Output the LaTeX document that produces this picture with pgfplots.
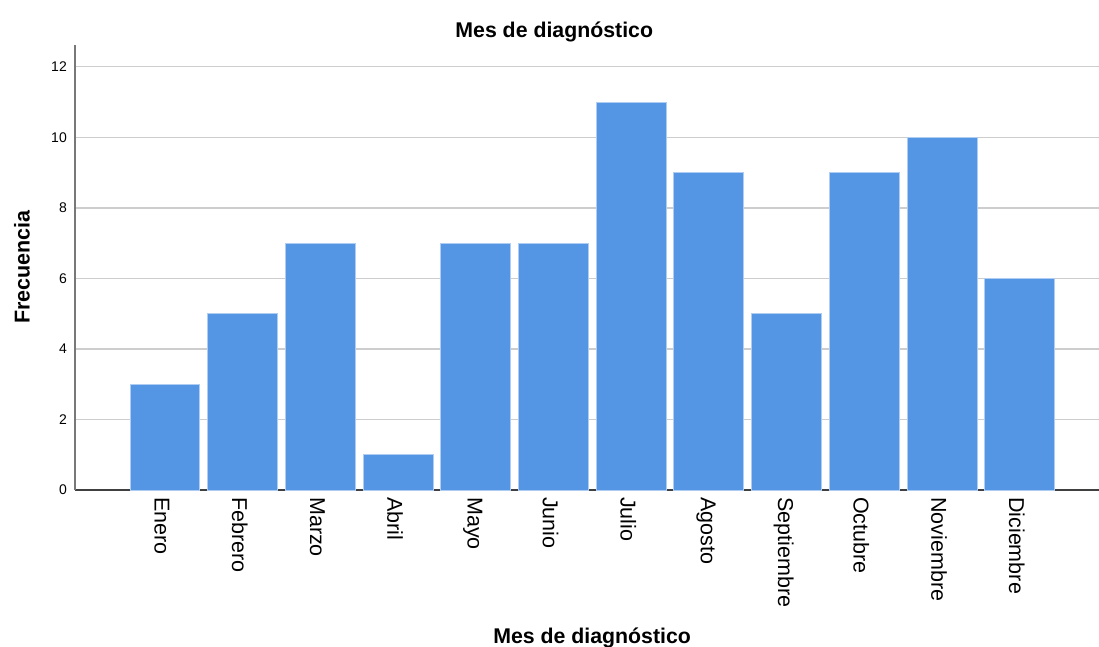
\documentclass[border=0pt]{standalone}
\usepackage{pgfplots}
\pgfplotsset{compat=1.18}
\usepackage{fontspec}
\setmainfont{Liberation Sans}

\definecolor{barblue}{RGB}{85,150,228}
\definecolor{baredge}{RGB}{175,205,242}
\definecolor{gridgray}{RGB}{205,205,205}
\definecolor{axisgray}{RGB}{120,120,120}

\begin{document}
\begin{tikzpicture}
\begin{axis}[
  scale only axis,
  width=1024pt, height=445pt,
  xmin=-1.158, xmax=12.02,
  ymin=0, ymax=12.62,
  axis lines*=left,
  x axis line style={draw=black!75, line width=1.2pt},
  y axis line style={draw=axisgray, line width=1.2pt},
  xtick=data,
  xticklabels={Enero,Febrero,Marzo,Abril,Mayo,Junio,Julio,Agosto,Septiembre,Octubre,Noviembre,Diciembre},
  ytick={0,2,4,6,8,10,12},
  major tick length=0pt,
  ymajorgrids,
  grid style={draw=gridgray, line width=1.2pt},
  xticklabel style={rotate=-90, anchor=west, font=\fontsize{21.5}{25}\selectfont, inner sep=0pt, xshift=7pt, yshift=-3pt},
  yticklabel style={anchor=east, font=\fontsize{14}{17}\selectfont, inner sep=0pt, xshift=-8pt},
  /pgf/number format/assume math mode=true,
  title={Mes de diagnóstico},
  title style={at={(axis description cs:0.468,1.016)}, anchor=center, font=\bfseries\fontsize{21.3}{25}\selectfont},
  xlabel={Mes de diagnóstico},
  xlabel style={at={(axis description cs:0.505,-0.3326)}, anchor=center, font=\bfseries\fontsize{21.3}{25}\selectfont},
  ylabel={Frecuencia},
  ylabel style={at={(axis description cs:-0.0518,0.501)}, anchor=center, rotate=0, font=\bfseries\fontsize{21.5}{25}\selectfont},
]
\addplot[ybar, bar width=0.9, fill=barblue, draw=baredge, line width=1pt]
  coordinates {(0,3) (1,5) (2,7) (3,1) (4,7) (5,7) (6,11) (7,9) (8,5) (9,9) (10,10) (11,6)};
\end{axis}
\pgfresetboundingbox
\path[use as bounding box] (-75pt,-156pt) rectangle (1024pt,490pt);
\end{tikzpicture}
\end{document}
